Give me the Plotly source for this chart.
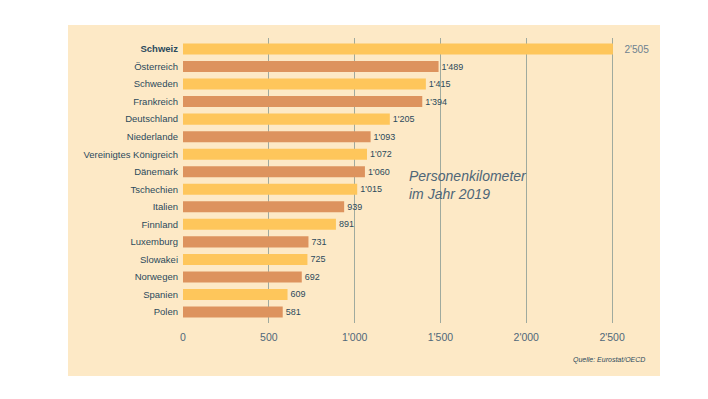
import plotly.graph_objects as go

countries = ["Schweiz", "Österreich", "Schweden", "Frankreich", "Deutschland", "Niederlande",
             "Vereinigtes Königreich", "Dänemark", "Tschechien", "Italien", "Finnland",
             "Luxemburg", "Slowakei", "Norwegen", "Spanien", "Polen"]
values = [2505, 1489, 1415, 1394, 1205, 1093, 1072, 1060, 1015, 939, 891, 731, 725, 692, 609, 581]
tick_vals = [0, 500, 1000, 1500, 2000, 2500]
tick_text = ["0", "500", "1'000", "1'500", "2'000", "2'500"]

YELLOW = "#FEC65B"
ORANGE = "#DD935E"
TEXT = "#2C4A5C"

colors = [YELLOW if i % 2 == 0 else ORANGE for i in range(len(countries))]

def fmt(v):
    return f"{v:,}".replace(",", "'")

labels = [("   " + fmt(v)) if i == 0 else fmt(v) for i, v in enumerate(values)]
label_colors = ["#6E8190" if i == 0 else TEXT for i in range(len(values))]
label_sizes = [11 if i == 0 else 9 for i in range(len(values))]

fig = go.Figure(go.Bar(
    y=countries, x=values, orientation="h",
    marker=dict(color=colors, line=dict(width=0)),
    text=labels, textposition="outside", cliponaxis=False,
    textfont=dict(color=label_colors, size=label_sizes, family="Liberation Sans, Arial"),
    width=0.63,
))

ytext = ["<b>" + c + "</b>" if i == 0 else c for i, c in enumerate(countries)]

# page body has an 8px margin; figure coordinates are page coordinates minus 8
OFF = 8
L, R, T, B = 183 - OFF, 661 - OFF, 38 - OFF, 323 - OFF
W, H = 700, 391
PW, PH = R - L, B - T

def px(xp):
    return (xp - OFF - L) / PW

def py(yp):
    return (B - (yp - OFF)) / PH

fig.update_layout(
    width=W, height=H,
    paper_bgcolor="white", plot_bgcolor="rgba(0,0,0,0)",
    margin=dict(l=L, r=W - R, t=T, b=H - B),
    font=dict(family="Liberation Sans, Arial", size=9.5, color=TEXT),
    showlegend=False,
    shapes=[dict(type="rect", xref="paper", yref="paper", layer="below",
                 x0=px(68), x1=px(660), y0=py(376), y1=py(25),
                 fillcolor="#FDE9C6", line=dict(width=0))],
    annotations=[
        dict(text="Personenkilometer<br>im Jahr 2019", xref="paper", yref="paper",
             x=px(407), y=py(166), xanchor="left", yanchor="top",
             align="left", showarrow=False,
             font=dict(family="Liberation Sans, Arial", size=14, color="#4E6678", style="italic")),
        dict(text="Quelle: Eurostat/OECD", xref="paper", yref="paper",
             x=px(647), y=py(360), xanchor="right", yanchor="middle",
             showarrow=False,
             font=dict(family="Liberation Sans, Arial", size=7, color=TEXT, style="italic")),
    ],
)
fig.update_xaxes(range=[0, 2785], tickvals=tick_vals, ticktext=tick_text,
                 showgrid=True, gridcolor="#9FAA9E", gridwidth=1, zeroline=False,
                 showline=False, ticks="", tickfont=dict(size=10.5, color="#50687A"),
                 ticklabelstandoff=6)
fig.update_yaxes(range=[15.627, -0.627], tickvals=countries, ticktext=ytext,
                 showgrid=False, zeroline=False, showline=False, ticks="",
                 ticklabelstandoff=4)

fig.write_html("out.html")
